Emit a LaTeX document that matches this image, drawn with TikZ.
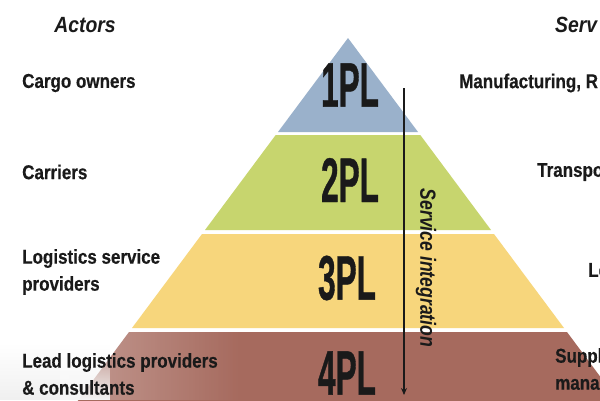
\documentclass[tikz,border=0pt]{standalone}
\usepackage{fontspec}
\usetikzlibrary{arrows.meta,fadings}
\setmainfont{Liberation Sans}
\newfontfamily\lblfont[FakeStretch=0.85,FakeBold=0.4]{Liberation Sans}
\newfontfamily\plfont[FakeStretch=0.5,FakeBold=0.6]{Liberation Sans}
\newfontfamily\hdfont[FakeStretch=0.88]{Liberation Sans}
\newfontfamily\sifont[FakeStretch=0.8]{Liberation Sans}
\definecolor{tblue}{HTML}{9AB1CB}
\definecolor{tgreen}{HTML}{C7D56E}
\definecolor{tyellow}{HTML}{F7D67C}
\definecolor{tbrown}{HTML}{A66A5E}
\definecolor{ink}{HTML}{1A1A1A}
\tikzset{
  lbl/.style={font=\lblfont\bfseries\fontsize{20}{27}\selectfont, text=ink, anchor=west, align=left, inner sep=0pt},
  pl/.style={font=\plfont\bfseries\fontsize{63}{63}\selectfont, text=ink, inner sep=0pt},
  hd/.style={font=\hdfont\bfseries\itshape\fontsize{22}{22}\selectfont, text=ink, inner sep=0pt}
}
\begin{document}
\begin{tikzpicture}[x=1pt,y=-1pt]
\useasboundingbox (0,0) rectangle (600,400);
\clip (0,0) rectangle (600,400);
\fill[white] (0,0) rectangle (600,400);
% pyramid layers
\fill[tblue]   (348,38) -- (418,132) -- (278,132) -- cycle;
\fill[tgreen]  (275.7,135) -- (420.3,135) -- (491,230) -- (205,230) -- cycle;
\fill[tyellow] (202,234) -- (494,234) -- (564,328) -- (132,328) -- cycle;
\fill[tbrown]  (129,332) -- (567,332) -- (625,410) -- (71,410) -- cycle;
% haze bottom-left
\fill[gray!12, path fading=north] (0,345) rectangle (110,400);
\fill[white, opacity=0.35, path fading=east] (60,332) rectangle (240,400);
% headings
\node[hd] (actors) at (85,25) {Actors};
\node[hd, anchor=west] (serv) at (555,25) {Serv};
% left labels
\node[lbl] (cargo) at (22,83) {Cargo owners};
\node[lbl] (carriers) at (22,172) {Carriers};
\node[lbl] (lsp) at (22,272) {Logistics service\\providers};
\node[lbl] (llp) at (22,374) {Lead logistics providers\\\& consultants};
% right labels
\node[lbl] (manu) at (459,83) {Manufacturing, R};
\node[lbl] (trans) at (537,172) {Transpo};
\node[lbl] (lo) at (588,270) {Lo};
\node[lbl] (suppl) at (555,369) {Suppl\\mana};
% PL labels
\node[pl] (p1) at (350,85) {1PL};
\node[pl] (p2) at (350,180) {2PL};
\node[pl] (p3) at (347,278) {3PL};
\node[pl] (p4) at (347,373) {4PL};
% arrow
\coordinate (atop) at (404,88);
\coordinate (abot) at (404,395);
\draw[ink, line width=1.2pt, -{Stealth[length=7pt,width=6pt]}] (atop) -- (abot);
\node[font=\sifont\bfseries\itshape\fontsize{22}{22}\selectfont, text=ink, rotate=-90, inner sep=0pt] (si) at (426,268) {Service integration};
\end{tikzpicture}
\end{document}
